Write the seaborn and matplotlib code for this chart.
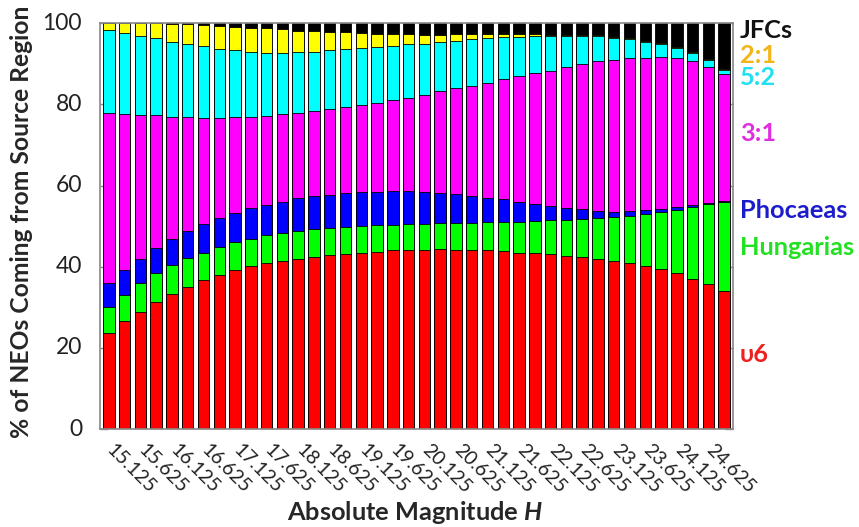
import matplotlib
matplotlib.use("Agg")
import matplotlib.pyplot as plt
import matplotlib.transforms as mtransforms
import seaborn as sns
import numpy as np
import pandas as pd

# ---------------- data ----------------
H_labels = ["15.125", "15.375", "15.625", "15.875", "16.125", "16.375", "16.625", "16.875",
            "17.125", "17.375", "17.625", "17.875", "18.125", "18.375", "18.625", "18.875",
            "19.125", "19.375", "19.625", "19.875", "20.125", "20.375", "20.625", "20.875",
            "21.125", "21.375", "21.625", "21.875", "22.125", "22.375", "22.625", "22.875",
            "23.125", "23.375", "23.625", "23.875", "24.125", "24.375", "24.625", "24.875"]

nu6 = [23.7, 26.5, 28.9, 31.2, 33.3, 35.1, 36.7, 38.0, 39.1, 40.2, 41.0, 41.5, 42.0, 42.5,
       42.8, 43.1, 43.5, 43.7, 44.0, 44.2, 44.2, 44.3, 44.2, 44.1, 44.0, 43.9, 43.5, 43.3,
       43.1, 42.7, 42.3, 41.9, 41.4, 41.0, 40.2, 39.4, 38.4, 37.0, 35.7, 33.9]
hungarias = [6.3, 6.6, 7.0, 7.2, 7.2, 7.0, 6.8, 6.9, 6.9, 6.7, 6.7, 6.7, 6.8, 6.7, 6.7, 6.8,
             6.5, 6.5, 6.4, 6.3, 6.3, 6.4, 6.5, 6.6, 6.9, 7.0, 7.6, 8.0, 8.3, 8.8, 9.4, 10.0,
             10.8, 11.5, 12.7, 14.2, 15.7, 17.8, 19.8, 22.0]
phocaeas = [6.1, 6.2, 6.1, 6.3, 6.4, 6.8, 7.1, 7.0, 7.3, 7.6, 7.6, 7.8, 8.1, 8.2, 8.3, 8.2,
            8.3, 8.3, 8.2, 8.2, 7.8, 7.5, 7.3, 6.8, 6.1, 5.8, 4.9, 4.2, 3.6, 2.9, 2.5, 1.9,
            1.4, 1.2, 1.1, 0.6, 0.5, 0.4, 0.3, 0.2]
res31 = [41.7, 38.3, 35.4, 32.6, 30.1, 27.9, 26.1, 24.8, 23.5, 22.5, 21.9, 21.6, 21.1, 21.1,
         21.1, 21.3, 21.6, 21.8, 22.4, 22.9, 24.0, 25.1, 26.0, 27.1, 28.4, 29.5, 31.0, 32.2,
         33.3, 34.8, 35.7, 36.8, 37.4, 37.7, 37.5, 37.6, 36.8, 35.6, 33.5, 31.4]
res52 = [20.6, 20.1, 19.5, 19.1, 18.5, 18.1, 17.6, 17.0, 16.5, 16.0, 15.6, 15.2, 14.9, 14.5,
         14.4, 14.2, 13.9, 13.8, 13.4, 13.2, 12.7, 12.2, 11.7, 11.5, 10.9, 10.3, 9.7, 9.2,
         8.6, 7.7, 7.0, 6.2, 5.3, 4.7, 4.0, 3.2, 2.6, 2.0, 1.6, 1.0]
res21 = [1.6, 2.3, 3.1, 3.6, 4.4, 4.9, 5.3, 5.7, 5.9, 5.9, 6.0, 5.7, 5.3, 5.1, 4.6, 4.2,
         3.7, 3.3, 2.9, 2.5, 2.1, 1.6, 1.6, 1.2, 1.0, 0.8, 0.6, 0.4, 0.2, 0.2, 0.2, 0.2,
         0.2, 0.2, 0.2, 0.2, 0.2, 0.2, 0.2, 0.2]
jfcs = [0.0, 0.0, 0.0, 0.0, 0.1, 0.2, 0.4, 0.6, 0.8, 1.1, 1.2, 1.5, 1.8, 1.9, 2.1, 2.2,
        2.5, 2.6, 2.7, 2.7, 2.9, 2.9, 2.7, 2.7, 2.7, 2.7, 2.7, 2.7, 2.9, 2.9, 2.9, 3.0,
        3.5, 3.7, 4.3, 4.8, 5.8, 7.0, 8.9, 11.3]

series_names = ["υ6", "Hungarias", "Phocaeas", "3:1", "5:2", "2:1", "JFCs"]
series_vals = [nu6, hungarias, phocaeas, res31, res52, res21, jfcs]
bar_colors = ["#ff0000", "#00ff00", "#0000ff", "#ff00ff", "#00ffff", "#ffff00", "#000000"]
label_colors = ["#ee2020", "#22e022", "#1c1ccc", "#e02ee0", "#22e0f0", "#f2b418", "#111111"]
label_y = [16.6, 42.9, 51.9, 71.0, 84.8, 90.1, 96.3]
yticks = [0, 20, 40, 60, 80, 100]

# ---------------- plot ----------------
sns.set_theme(style="white")
plt.rcParams["font.family"] = ["Lato", "DejaVu Sans"]
plt.rcParams["mathtext.fontset"] = "custom"
plt.rcParams["mathtext.bfit"] = "Lato:italic:bold"
plt.rcParams["mathtext.it"] = "Lato:italic:bold"

cum = np.zeros(len(H_labels))
cums = []
for v in series_vals:
    cum = cum + np.array(v)
    cums.append(cum.copy())

fig = plt.figure(figsize=(8.59, 5.27), dpi=100)
ax = fig.add_axes([100 / 859, 98 / 527, 633 / 859, 405.7 / 527])

# draw tallest cumulative first so lower stacks sit on top
for name, c, col in reversed(list(zip(series_names, cums, bar_colors))):
    sns.barplot(x=H_labels, y=c, order=H_labels, color=col, saturation=1,
                edgecolor="black", linewidth=0.6, width=0.72, ax=ax)

ax.set_xlim(-0.56, len(H_labels) - 0.44)
ax.set_ylim(0, 100)
ax.set_yticks(yticks)
ax.set_yticklabels([])
ax.set_xticks(range(0, len(H_labels), 2))
ax.set_xticklabels(H_labels[::2], rotation=-45, ha="left", va="top",
                   rotation_mode="anchor", fontsize=14, color="#222222")
ax.tick_params(axis="x", length=0, pad=9)
ax.tick_params(axis="y", direction="in", length=6, color="#888888", width=1,
               right=True, left=True)
for s in ax.spines.values():
    s.set_color("#888888")
    s.set_linewidth(1.2)

# y tick labels placed with right edge ~18 px left of the axis
ytrans = mtransforms.blended_transform_factory(fig.transFigure, ax.transData)
ytl = [fig.text(82 / 859, t, str(t), transform=ytrans, ha="right", va="center",
                fontsize=15, color="#222222") for t in yticks]

ylab = fig.text(22 / 859, 1 - 222 / 527, "% of NEOs Coming from Source Region",
                rotation=90, ha="center", va="center", fontsize=14.5, fontweight="bold")
xlab = fig.text(415 / 859, 1 - 513 / 527, r"Absolute Magnitude $\mathit{H}$", ha="center",
                va="center", fontsize=15, fontweight="bold")

side = []
for name, ly, lc in zip(series_names, label_y, label_colors):
    side.append(ax.text(1.0105, ly, name, transform=ax.get_yaxis_transform(), ha="left",
                        va="baseline", fontsize=14, fontweight="bold", color=lc))

# ---- size text to match target pixel extents ----
r = fig.canvas.get_renderer()


def scale_to(texts, ref, target, dim="w"):
    bb = ref.get_window_extent(r)
    cur = bb.width if dim == "w" else bb.height
    f = target / cur
    for t in texts:
        t.set_fontsize(t.get_fontsize() * f)


scale_to([ylab], ylab, 430, "h")
scale_to([xlab], xlab, 257)
scale_to(side, side[2], 108)
scale_to(ytl, ytl[-1], 40)

offset = mtransforms.ScaledTranslation(7 / 100, 0, fig.dpi_scale_trans)
for t in ax.get_xticklabels():
    t.set_transform(t.get_transform() + offset)

fig.savefig("out.png", dpi=100)
